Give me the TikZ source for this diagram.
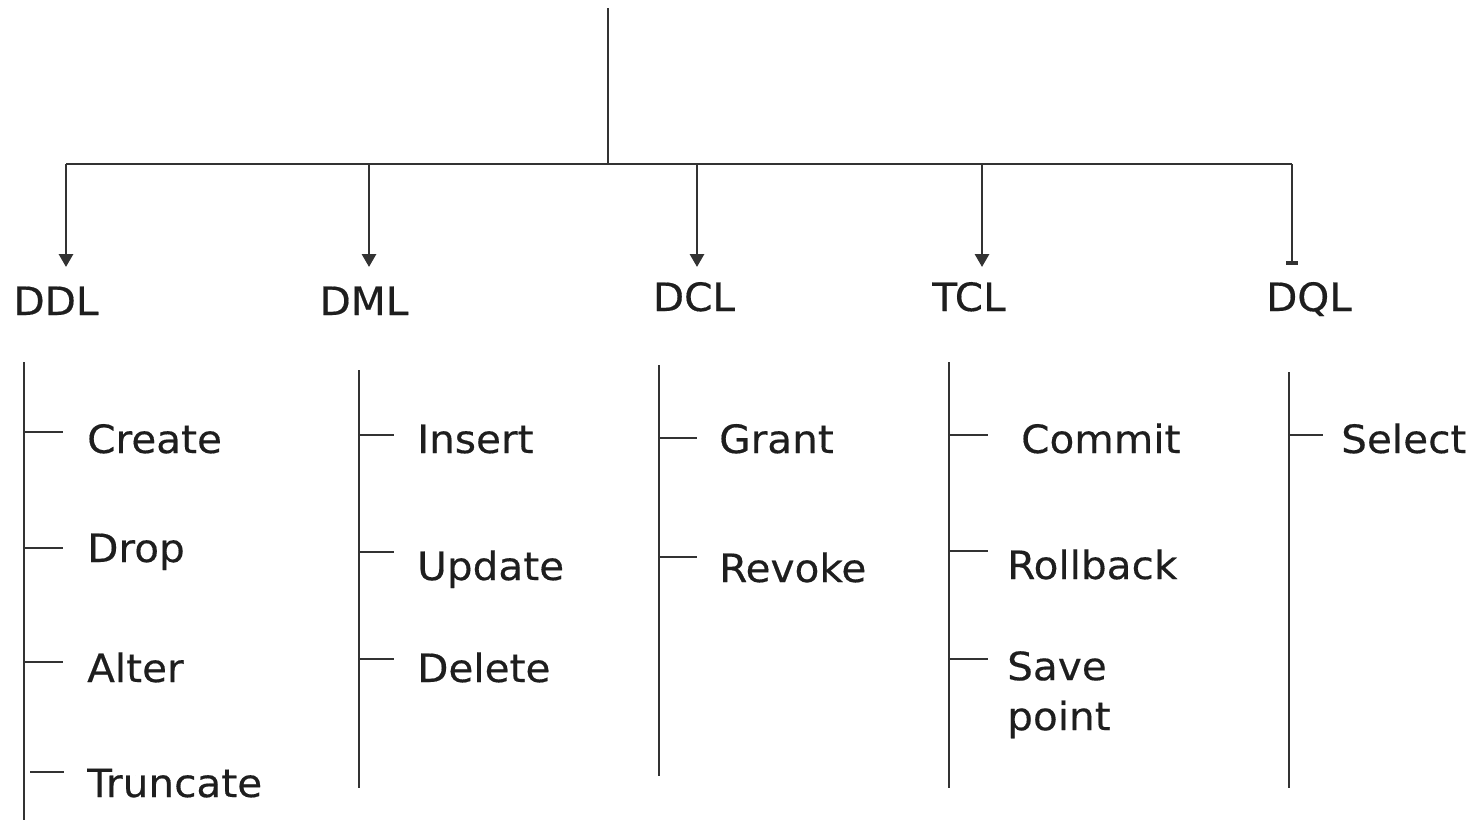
\documentclass[tikz,border=0pt]{standalone}
\usepackage{fontspec}
\setmainfont{DejaVu Sans}[FakeStretch=1.04,FakeBold=0.4]
\usetikzlibrary{arrows.meta}
\definecolor{ln}{HTML}{333333}
\definecolor{tx}{HTML}{1E1E1E}
\begin{document}
\begin{tikzpicture}[x=1pt,y=-1pt,
  ln/.style={draw=ln,line width=2.9pt},
  arr/.style={ln,-{Triangle[width=14pt,length=13pt]}},
  bararr/.style={ln,-{Rectangle[width=12pt,length=4pt]}},
  lbl/.style={font=\fontsize{39}{46}\selectfont,text=tx,inner sep=0pt,text height=28pt,text depth=0pt},
  hdr/.style={lbl,anchor=center},
  item/.style={lbl,anchor=west},
  multi/.style={font=\fontsize{39}{50}\selectfont,text=tx,inner sep=0pt,anchor=north west,align=left}]
\useasboundingbox[fill=white] (0,0) rectangle (1479,820);

% root stem and bus
\coordinate (top) at (608,8);
\coordinate (j) at (608,164);
\coordinate (bl) at (66,164);
\coordinate (b2) at (369,164);
\coordinate (b3) at (697,164);
\coordinate (b4) at (982,164);
\coordinate (br) at (1292,164);
\draw[ln] (top) -- (j);
\draw[ln] (bl) -- (br);

% arrow ends
\coordinate (a1) at (66,267);
\coordinate (a2) at (369,267);
\coordinate (a3) at (697,267);
\coordinate (a4) at (982,267);
\coordinate (a5) at (1292,265);
\draw[arr] (bl) -- (a1);
\draw[arr] (b2) -- (a2);
\draw[arr] (b3) -- (a3);
\draw[arr] (b4) -- (a4);
\draw[bararr] (br) -- (a5);

% headers
\node[hdr] (ddl) at (56,301) {DDL};
\node[hdr] (dml) at (364,301) {DML};
\node[hdr] (dcl) at (694,297) {DCL};
\node[hdr] (tcl) at (969,297) {TCL};
\node[hdr] (dql) at (1309,297) {DQL};

% DDL column
\coordinate (v1t) at (24,362);
\coordinate (v1b) at (24,820);
\draw[ln] (v1t) -- (v1b);
\coordinate (t11) at (24,432); \coordinate (e11) at (63,432);
\coordinate (t12) at (24,548); \coordinate (e12) at (63,548);
\coordinate (t13) at (24,662); \coordinate (e13) at (63,662);
\coordinate (t14) at (30,772); \coordinate (e14) at (64,772);
\draw[ln] (t11) -- (e11);
\draw[ln] (t12) -- (e12);
\draw[ln] (t13) -- (e13);
\draw[ln] (t14) -- (e14);
\node[item] (create) at (87,439) {Create};
\node[item] (drop) at (87,548) {Drop};
\node[item] (alter) at (87,668) {Alter};
\node[item] (trunc) at (87,783) {Truncate};

% DML column
\coordinate (v2t) at (359,370);
\coordinate (v2b) at (359,788);
\draw[ln] (v2t) -- (v2b);
\coordinate (t21) at (359,435); \coordinate (e21) at (394,435);
\coordinate (t22) at (359,552); \coordinate (e22) at (394,552);
\coordinate (t23) at (359,659); \coordinate (e23) at (394,659);
\draw[ln] (t21) -- (e21);
\draw[ln] (t22) -- (e22);
\draw[ln] (t23) -- (e23);
\node[item] (insert) at (417,439) {Insert};
\node[item] (update) at (417,566) {Update};
\node[item] (delete) at (417,668) {Delete};

% DCL column
\coordinate (v3t) at (659,365);
\coordinate (v3b) at (659,776);
\draw[ln] (v3t) -- (v3b);
\coordinate (t31) at (659,438); \coordinate (e31) at (697,438);
\coordinate (t32) at (659,557); \coordinate (e32) at (697,557);
\draw[ln] (t31) -- (e31);
\draw[ln] (t32) -- (e32);
\node[item] (grant) at (719,439) {Grant};
\node[item] (revoke) at (719,568) {Revoke};

% TCL column
\coordinate (v4t) at (949,362);
\coordinate (v4b) at (949,788);
\draw[ln] (v4t) -- (v4b);
\coordinate (t41) at (949,435); \coordinate (e41) at (988,435);
\coordinate (t42) at (949,551); \coordinate (e42) at (988,551);
\coordinate (t43) at (949,659); \coordinate (e43) at (988,659);
\draw[ln] (t41) -- (e41);
\draw[ln] (t42) -- (e42);
\draw[ln] (t43) -- (e43);
\node[item] (commit) at (1021,439) {Commit};
\node[item] (rollback) at (1007,565) {Rollback};
\node[multi] (save) at (1007,651) {Save\\point};

% DQL column
\coordinate (v5t) at (1289,372);
\coordinate (v5b) at (1289,788);
\draw[ln] (v5t) -- (v5b);
\coordinate (t51) at (1289,435); \coordinate (e51) at (1323,435);
\draw[ln] (t51) -- (e51);
\node[item] (select) at (1341,439) {Select};
\end{tikzpicture}
\end{document}
